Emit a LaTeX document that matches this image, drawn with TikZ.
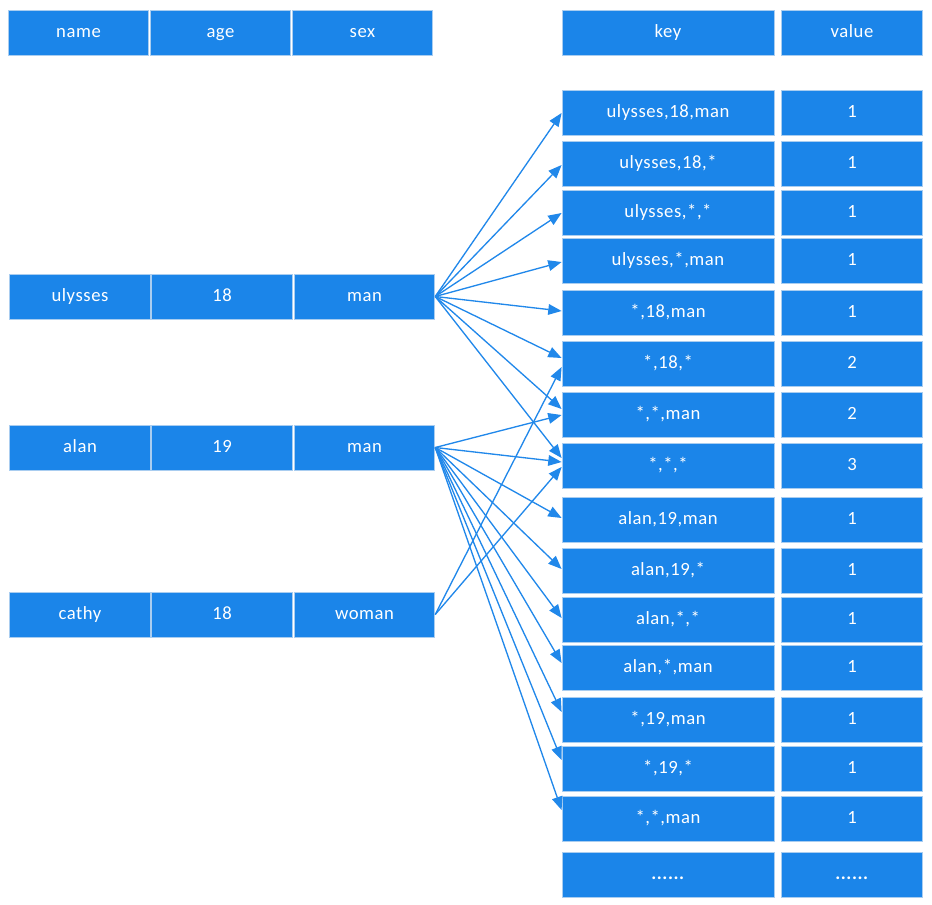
\documentclass[tikz,border=0pt]{standalone}
\usepackage{fontspec}
\setmainfont{Carlito}[LetterSpace=3]
\usetikzlibrary{arrows.meta}
\definecolor{cellblue}{HTML}{1B85E9}
\definecolor{cellrim}{HTML}{A9CDF0}
\definecolor{linkblue}{HTML}{2188EA}

\tikzset{
  cell/.style={fill=cellblue, draw=cellrim, line width=0.6pt, text=white,
    font=\fontsize{14}{16}\selectfont, minimum height=33.75pt, inner sep=0pt,
    text height=9pt, text depth=2pt},
  link/.style={linkblue, line width=1pt, -{Triangle[length=10pt,width=8pt]}}
}

\begin{document}
\begin{tikzpicture}[x=0.75pt, y=-0.75pt]
    \useasboundingbox (0,0) rectangle (932,904);
    \pgfmathsetmacro{\wSmall}{105.5}  % units of points
    \pgfmathsetmacro{\wKey}{159}  % units of points

    % header rows
    \node[cell, minimum width=\wSmall pt] (hdrName) at (78.5,32.5) {name};
    \node[cell, minimum width=\wSmall pt] (hdrAge) at (220.5,32.5) {age};
    \node[cell, minimum width=\wSmall pt] (hdrSex) at (362.5,32.5) {sex};
    \node[cell, minimum width=\wKey pt] (hdrKey) at (668,32.5) {key};
    \node[cell, minimum width=\wSmall pt] (hdrVal) at (852,32.5) {value};

    % input records
    \node[cell, minimum width=\wSmall pt] (nameU) at (80,296.5) {ulysses};
    \node[cell, minimum width=\wSmall pt] (ageU) at (222,296.5) {18};
    \node[cell, minimum width=\wSmall pt] (sexU) at (364.5,296.5) {man};
    \node[cell, minimum width=\wSmall pt] (nameA) at (80,447.5) {alan};
    \node[cell, minimum width=\wSmall pt] (ageA) at (222,447.5) {19};
    \node[cell, minimum width=\wSmall pt] (sexA) at (364.5,447.5) {man};
    \node[cell, minimum width=\wSmall pt] (nameC) at (80,614.5) {cathy};
    \node[cell, minimum width=\wSmall pt] (ageC) at (222,614.5) {18};
    \node[cell, minimum width=\wSmall pt] (sexC) at (364.5,614.5) {woman};

    % key / value table
    \foreach \y/\k/\v [count=\i] in {112.5/{ulysses,18,man}/1, 163.5/{ulysses,18,*}/1,
        212.5/{ulysses,*,*}/1, 260.5/{ulysses,*,man}/1, 312.5/{*,18,man}/1,
        363.5/{*,18,*}/2, 414.5/{*,*,man}/2, 465.5/{*,*,*}/3,
        519.5/{alan,19,man}/1, 570.5/{alan,19,*}/1, 619.5/{alan,*,*}/1,
        667.5/{alan,*,man}/1, 719.5/{*,19,man}/1, 768.5/{*,19,*}/1,
        818.5/{*,*,man}/1} {
      \node[cell, minimum width=\wKey pt] (key\i) at (668,\y) {\k};
      \node[cell, minimum width=\wSmall pt] (val\i) at (852,\y) {\v};
    }
    \node[cell, minimum width=\wKey pt] (keyMore) at (668,874.5) {\textbf{......}};
    \node[cell, minimum width=\wSmall pt] (valMore) at (852,874.5) {\textbf{......}};

    % expansions
    \foreach \r/\y in {1/113, 2/165, 3/213, 4/262, 5/311, 6/358, 7/409, 8/458}
      \draw[link] (sexU.east) -- (key\r.west |- 0,\y);
    \foreach \r/\y in {7/415, 8/462, 9/518, 10/569, 11/618, 12/663, 13/712, 14/760, 15/810}
      \draw[link] (sexA.east) -- (key\r.west |- 0,\y);
    \foreach \r/\y in {6/367, 8/467}
      \draw[link] (sexC.east) -- (key\r.west |- 0,\y);
\end{tikzpicture}
\end{document}
